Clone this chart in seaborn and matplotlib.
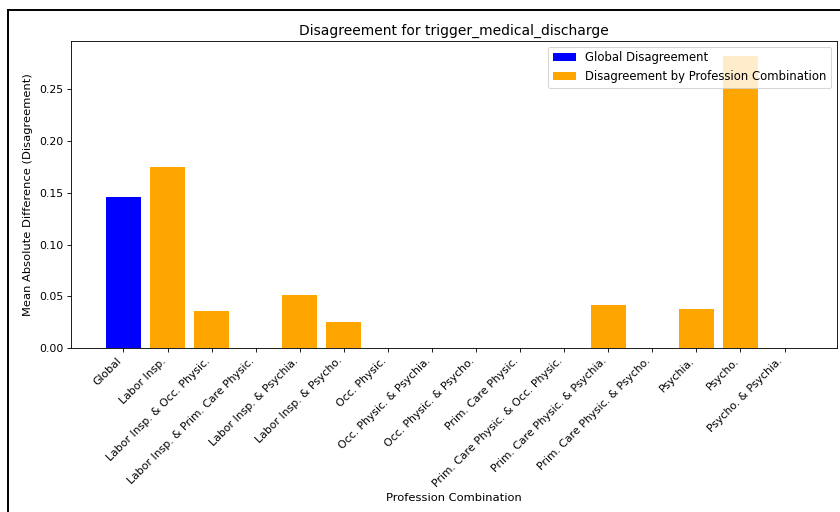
import matplotlib
matplotlib.use("Agg")
import matplotlib.pyplot as plt
from matplotlib.lines import Line2D
import seaborn as sns
import pandas as pd

# Profession combinations (x categories) and mean absolute differences
categories = [
    "Global",
    "Labor Insp.",
    "Labor Insp. & Occ. Physic.",
    "Labor Insp. & Prim. Care Physic.",
    "Labor Insp. & Psychia.",
    "Labor Insp. & Psycho.",
    "Occ. Physic.",
    "Occ. Physic. & Psychia.",
    "Occ. Physic. & Psycho.",
    "Prim. Care Physic.",
    "Prim. Care Physic. & Occ. Physic.",
    "Prim. Care Physic. & Psychia.",
    "Prim. Care Physic. & Psycho.",
    "Psychia.",
    "Psycho.",
    "Psycho. & Psychia.",
]
values = [0.146, 0.175, 0.036, 0.0, 0.051, 0.0255, 0.0, 0.0, 0.0, 0.0, 0.0,
          0.042, 0.0, 0.038, 0.2825, 0.0]
groups = ["Global Disagreement"] + ["Disagreement by Profession Combination"] * (len(categories) - 1)

df = pd.DataFrame({"combo": categories, "mad": values, "group": groups})
palette = {"Global Disagreement": "blue",
           "Disagreement by Profession Combination": "orange"}

DPI = 78
fig = plt.figure(figsize=(840 / DPI, 512 / DPI), dpi=DPI)
ax = fig.add_axes([71 / 840, 1 - 348 / 512, (837 - 71) / 840, (348 - 41) / 512])

sns.barplot(data=df, x="combo", y="mad", hue="group", palette=palette,
            dodge=False, width=0.8, saturation=1, linewidth=0, ax=ax)

n = len(categories)
ax.set_xlim(-0.4 - 0.79, n - 1 + 0.4 + 0.79)
ax.set_ylim(0, max(values) * 1.05)
ax.set_yticks([0.0, 0.05, 0.10, 0.15, 0.20, 0.25])
ax.set_yticklabels(["0.00", "0.05", "0.10", "0.15", "0.20", "0.25"])
ax.tick_params(axis="both", labelsize=10)
plt.setp(ax.get_xticklabels(), rotation=45, ha="right")

ax.set_title("Disagreement for trigger_medical_discharge", fontsize=12.8)
ax.set_xlabel("Profession Combination", fontsize=10.6)
ax.set_ylabel("Mean Absolute Difference (Disagreement)", fontsize=10.6, labelpad=6)
ax.legend(loc="upper right", fontsize=10.7)

# Outer frame around the figure
x0 = 8 / 840
y0 = 1 - 10 / 512
fig.add_artist(Line2D([x0, x0], [0, y0], transform=fig.transFigure, color="black", linewidth=1.8))
fig.add_artist(Line2D([x0, 1], [y0, y0], transform=fig.transFigure, color="black", linewidth=1.8))

fig.savefig("out.png", dpi=DPI)
